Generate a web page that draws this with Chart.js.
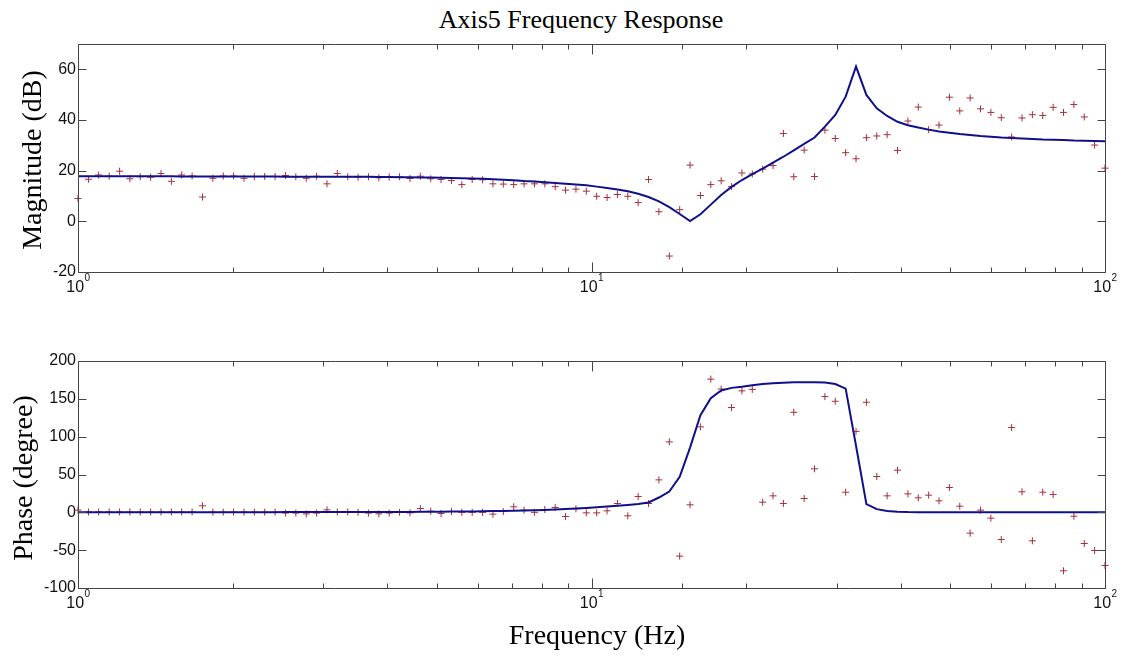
<!DOCTYPE html>
<html>
<head>
<meta charset="utf-8">
<title>Axis5 Frequency Response</title>
<script src="https://cdn.jsdelivr.net/npm/chart.js@4.4.1/dist/chart.umd.min.js"></script>
<style>
    body { margin: 0; background: #fff; }
    #wrap { position: relative; width: 1123px; height: 655px; overflow: hidden; }
    canvas { position: absolute; left: 0; }
    .txt { position: absolute; font-family: "Liberation Serif", "Times New Roman", serif; color: #000; white-space: nowrap; line-height: 1; }
    .ylab { transform: translate(-50%, -50%) rotate(-90deg); font-size: 28px; }
</style>
</head>
<body>
<div id="wrap">
    <div class="txt" style="left:581px; top:7px; font-size:26px; transform:translateX(-50%);">Axis5 Frequency Response</div>
    <canvas id="magChart" width="1123" height="310" style="top:0"></canvas>
    <canvas id="phaseChart" width="1123" height="300" style="top:320px"></canvas>
    <div class="txt ylab" style="left:32px; top:160px;">Magnitude (dB)</div>
    <div class="txt ylab" style="left:23px; top:478px;">Phase (degree)</div>
    <div class="txt" style="left:597px; top:621px; font-size:28px; transform:translateX(-50%);">Frequency (Hz)</div>
</div>
<script>
// frequency grid (Hz), 100 points from 1 to 100
const freqs = [
    1.000, 1.048, 1.097, 1.150, 1.205, 1.262, 1.322, 1.385, 1.451, 1.520,
    1.592, 1.668, 1.748, 1.831, 1.918, 2.009, 2.105, 2.205, 2.310, 2.420,
    2.535, 2.656, 2.783, 2.915, 3.054, 3.199, 3.352, 3.511, 3.678, 3.854,
    4.037, 4.229, 4.431, 4.642, 4.863, 5.094, 5.337, 5.591, 5.857, 6.136,
    6.428, 6.734, 7.055, 7.391, 7.743, 8.111, 8.498, 8.902, 9.326, 9.770,
    10.235, 10.723, 11.233, 11.768, 12.328, 12.915, 13.530, 14.175, 14.850, 15.557,
    16.298, 17.074, 17.886, 18.738, 19.630, 20.565, 21.544, 22.570, 23.645, 24.771,
    25.950, 27.186, 28.480, 29.836, 31.257, 32.745, 34.305, 35.938, 37.649, 39.442,
    41.320, 43.288, 45.349, 47.508, 49.770, 52.140, 54.623, 57.224, 59.948, 62.803,
    65.793, 68.926, 72.208, 75.646, 79.248, 83.022, 86.975, 91.116, 95.455, 100
];

// measured magnitude (dB)
const magMeasured = [
    9.0, 16.6, 18.3, 17.8, 19.8, 16.8, 17.6, 17.4, 18.9, 15.8,
    18.3, 17.9, 9.6, 17.0, 17.9, 17.9, 17.0, 17.7, 17.7, 17.7,
    18.1, 17.6, 17.0, 17.8, 14.8, 18.9, 17.6, 17.4, 17.6, 17.2,
    17.5, 17.6, 16.9, 17.8, 16.8, 16.5, 16.1, 14.5, 16.5, 16.4,
    14.8, 14.7, 14.5, 14.8, 14.8, 14.8, 13.7, 12.3, 12.7, 11.9,
    9.9, 9.4, 10.6, 9.9, 7.4, 16.5, 3.8, -13.7, 4.6, 22.2,
    10.2, 14.5, 16.0, 13.7, 19.1, 18.7, 20.6, 22.0, 34.7, 17.6,
    28.1, 17.7, 36.0, 32.7, 27.1, 24.7, 33.0, 33.7, 34.2, 28.0,
    39.6, 45.1, 36.2, 38.0, 49.0, 43.6, 48.7, 44.4, 43.0, 40.9,
    33.3, 40.8, 42.1, 41.8, 45.0, 43.0, 46.1, 41.2, 30.1, 21.0
];

// model magnitude (dB)
const magModel = [
    17.8, 17.8, 17.8, 17.8, 17.8, 17.8, 17.8, 17.8, 17.8, 17.8,
    17.7, 17.7, 17.7, 17.7, 17.7, 17.7, 17.7, 17.7, 17.7, 17.7,
    17.6, 17.6, 17.6, 17.6, 17.6, 17.6, 17.6, 17.6, 17.6, 17.5,
    17.5, 17.4, 17.4, 17.3, 17.3, 17.2, 17.1, 17.0, 16.9, 16.8,
    16.6, 16.4, 16.2, 15.9, 15.7, 15.4, 15.1, 14.8, 14.5, 14.2,
    13.7, 13.2, 12.6, 11.9, 10.9, 9.6, 7.9, 5.6, 2.9, 0.1,
    2.8, 6.6, 10.4, 13.6, 16.3, 18.6, 20.8, 23.2, 25.5, 28.0,
    30.6, 33.1, 37.4, 42.0, 49.2, 61.1, 49.9, 44.6, 41.6, 39.3,
    37.9, 37.0, 36.2, 35.5, 35.0, 34.5, 34.1, 33.7, 33.4, 33.1,
    32.9, 32.7, 32.5, 32.3, 32.2, 32.1, 31.9, 31.8, 31.7, 31.6
];

// measured phase (degree)
const phaseMeasured = [
    3.0, 0.5, 0.5, 0.5, 0.5, 0.5, 0.5, 0.5, 0.5, 0.5,
    0.5, 0.5, 8.6, 0.3, 0.3, 0.3, 0.3, 0.3, 0.3, 0.3,
    -1.0, -1.0, -2.0, -1.0, 3.3, 0.5, 0.5, 0.0, -1.0, -2.0,
    -1.0, 0.0, -0.7, 5.0, 1.5, -1.5, 1.0, 0.0, 0.0, 0.0,
    -2.4, 1.0, 7.3, 2.9, 0.0, 3.7, 6.4, -5.5, 4.6, -0.7,
    -0.7, 2.0, 11.7, -4.6, 20.9, 11.7, 42.9, 93.1, -57.9, 9.9,
    113, 176, 163, 138.5, 160.5, 162.5, 13.4, 21.8, 11.7, 132.3,
    18.3, 57.5, 153, 146.8, 26.6, 107, 145.5, 47.3, 21.8, 55.7,
    24.4, 19.2, 22.7, 15.2, 32.8, 8.1, -27.5, 2.9, -7.7, -35.9,
    112, 27.1, -37.6, 26.6, 23.6, -77.3, -5.1, -41.2, -50.4, -70.2
];

// model phase (degree)
const phaseModel = [
    0.1, 0.1, 0.1, 0.1, 0.1, 0.1, 0.1, 0.1, 0.1, 0.1,
    0.2, 0.2, 0.2, 0.2, 0.2, 0.2, 0.2, 0.2, 0.2, 0.2,
    0.3, 0.3, 0.3, 0.3, 0.3, 0.3, 0.4, 0.4, 0.4, 0.4,
    0.5, 0.5, 0.6, 0.7, 0.8, 0.9, 1.0, 1.1, 1.2, 1.4,
    1.6, 1.8, 2.1, 2.4, 2.8, 3.2, 3.7, 4.3, 5.0, 5.8,
    6.8, 7.8, 8.8, 9.8, 11.0, 13.0, 19.6, 27.5, 47.0, 85.6,
    128.5, 150.8, 161.0, 164.5, 166.0, 168.0, 169.5, 170.5, 171.3, 171.8,
    172.0, 172.0, 171.5, 169.5, 163.5, 88.0, 10.8, 4.2, 1.8, 0.8,
    0.3, 0.2, 0.1, 0.1, 0.1, 0.0, 0.0, 0.0, 0.0, 0.0,
    0.0, 0.0, 0.0, 0.0, 0.0, 0.0, 0.0, 0.0, 0.0, 0.0
];

// labelled decades on the frequency axis
const xTickLabels = [1, 10, 100];
const xTickExponents = ['0', '1', '2'];

const lineColor = '#10108c';
const markColor = '#a3303e';
const axisColor = '#454545';
const tickFont = '"Liberation Sans", Arial, sans-serif';

function isDecade(v) {
    const l = Math.log10(v);
    return Math.abs(l - Math.round(l)) < 1e-6;
}

// MATLAB style box with inward ticks and 10^n labels
const matlabFrame = {
    id: 'matlabFrame',
    afterDraw(chart) {
        const { ctx, chartArea: a, scales: { x, y } } = chart;
        const L = Math.round(a.left) + 0.5, R = Math.round(a.right) + 0.5;
        const T = Math.round(a.top) + 0.5, B = Math.round(a.bottom) + 0.5;
        ctx.save();
        ctx.strokeStyle = axisColor;
        ctx.lineWidth = 1;
        ctx.beginPath();
        x.ticks.forEach(t => {
            const px = Math.round(x.getPixelForValue(t.value)) + 0.5;
            const len = isDecade(t.value) ? 10 : 5;
            ctx.moveTo(px, B); ctx.lineTo(px, B - len);
            ctx.moveTo(px, T); ctx.lineTo(px, T + len);
        });
        y.ticks.forEach(t => {
            const py = Math.round(y.getPixelForValue(t.value)) + 0.5;
            ctx.moveTo(L, py); ctx.lineTo(L + 8, py);
            ctx.moveTo(R, py); ctx.lineTo(R - 8, py);
        });
        ctx.rect(L, T, R - L, B - T);
        ctx.stroke();

        ctx.fillStyle = '#111';
        ctx.textBaseline = 'alphabetic';
        ctx.textAlign = 'left';
        const base = B + 19;
        xTickLabels.forEach((v, i) => {
            const px = x.getPixelForValue(v);
            ctx.font = '16px ' + tickFont;
            const w1 = ctx.measureText('10').width;
            ctx.font = '10px ' + tickFont;
            const w2 = ctx.measureText(xTickExponents[i]).width;
            const start = px - (w1 + w2) / 2;
            ctx.font = '16px ' + tickFont;
            ctx.fillText('10', start, base);
            ctx.font = '10px ' + tickFont;
            ctx.fillText(xTickExponents[i], start + w1 + 0.5, base - 11);
        });
        ctx.restore();
    }
};

function makeChart(id, model, measured, yMin, yMax, yStep, padTop, xHeight) {
    const ctx = document.getElementById(id).getContext('2d');
    return new Chart(ctx, {
        type: 'line',
        data: {
            datasets: [{
                label: 'model',
                data: freqs.map((f, i) => ({ x: f, y: model[i] })),
                borderColor: lineColor,
                borderWidth: 2,
                pointRadius: 0,
                tension: 0,
                fill: false
            }, {
                label: 'measured',
                data: freqs.map((f, i) => ({ x: f, y: measured[i] })),
                showLine: false,
                pointStyle: 'cross',
                pointRadius: 3.5,
                pointBorderWidth: 1,
                pointBorderColor: markColor,
                pointBackgroundColor: markColor,
                clip: false
            }]
        },
        options: {
            responsive: false,
            animation: false,
            events: [],
            layout: { padding: { top: padTop, right: 18, bottom: 0, left: 0 } },
            plugins: {
                legend: { display: false },
                tooltip: { enabled: false },
                title: { display: false }
            },
            scales: {
                x: {
                    type: 'logarithmic',
                    min: 1,
                    max: 100,
                    grid: { display: false, drawTicks: false },
                    border: { display: false },
                    ticks: { display: false },
                    afterFit: s => { s.height = xHeight; }
                },
                y: {
                    type: 'linear',
                    min: yMin,
                    max: yMax,
                    grid: { display: false, drawTicks: false },
                    border: { display: false },
                    ticks: {
                        stepSize: yStep,
                        includeBounds: false,
                        padding: 2,
                        color: '#111',
                        font: { family: tickFont, size: 16 }
                    },
                    afterFit: s => { s.width = 78; }
                }
            }
        },
        plugins: [matlabFrame]
    });
}

makeChart('magChart', magModel, magMeasured, -20, 70, 20, 44, 38);
makeChart('phaseChart', phaseModel, phaseMeasured, -100, 200, 50, 41, 32);
</script>
</body>
</html>
